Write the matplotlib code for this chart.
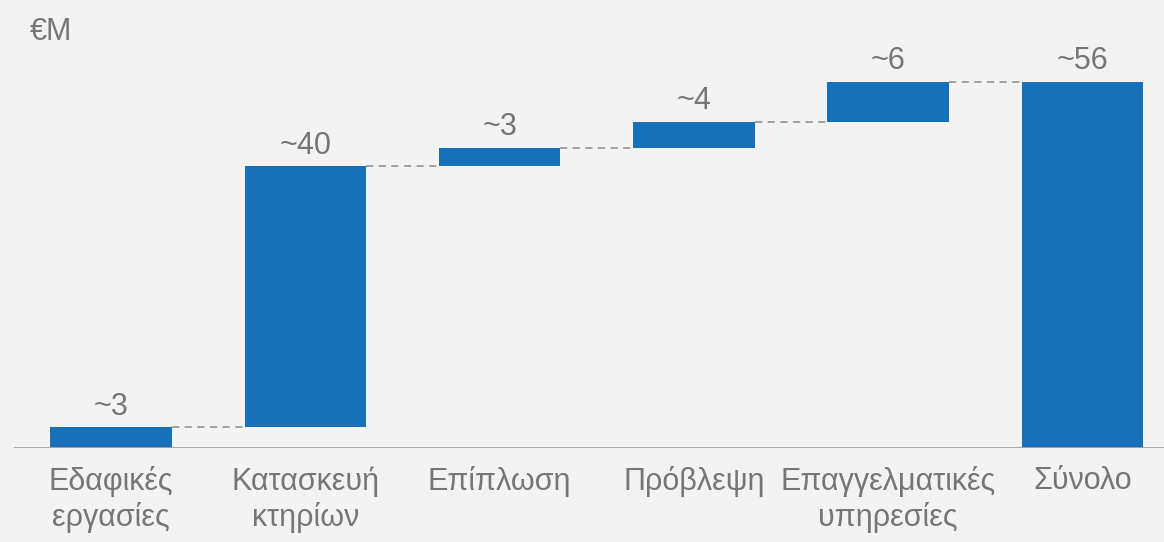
import matplotlib.pyplot as plt

# waterfall data (EUR million)
categories = ["Εδαφικές\nεργασίες", "Κατασκευή\nκτηρίων", "Επίπλωση",
              "Πρόβλεψη", "Επαγγελματικές\nυπηρεσίες", "Σύνολο"]
steps = [3.2, 39.9, 2.8, 4.0, 6.1]
total = 56.0
value_labels = ["~3", "~40", "~3", "~4", "~6", "~56"]

BAR = "#1770b8"
GREY_TXT = "#767676"
BG = "#f3f3f3"
FS = 22

plt.rcParams["font.family"] = ["Liberation Sans", "DejaVu Sans"]

fig = plt.figure(figsize=(11.64, 5.42), dpi=100, facecolor=BG)
ax = fig.add_axes([14 / 1164, 1 - 448 / 542, 1 - 14 / 1164, (448 - 20) / 542])
ax.set_facecolor(BG)

bottoms, heights = [], []
run = 0.0
for s in steps:
    bottoms.append(run)
    heights.append(s)
    run += s
bottoms.append(0.0)
heights.append(total)

xs = list(range(len(categories)))
width = 0.625
ax.bar(xs, heights, bottom=bottoms, width=width, color=BAR, zorder=3)

# dashed connectors between bars
for i in range(len(xs) - 1):
    level = bottoms[i] + heights[i]
    ax.plot([xs[i] + width / 2, xs[i + 1] - width / 2], [level, level],
            ls=(0, (4, 3)), color="#9a9a9a", lw=1.3, zorder=2)

for x, b, h, lab in zip(xs, bottoms, heights, value_labels):
    ax.annotate(lab, (x, b + h), xytext=(0, 9), textcoords="offset points",
                ha="center", va="baseline", fontsize=FS, color=GREY_TXT)

ax.axhline(0, color="#a3a3a3", lw=2, zorder=4)

ax.set_xlim(-0.5, 5.42)
ax.set_ylim(0, (448 - 20) / 6.54)
ax.set_xticks(xs)
ax.set_xticklabels(categories, fontsize=FS, color=GREY_TXT, linespacing=1.22)
ax.tick_params(axis="x", length=0, pad=13)
ax.set_yticks([])
for sp in ax.spines.values():
    sp.set_visible(False)

fig.text(30 / 1164, 1 - 32 / 542, "€M", fontsize=FS, color=GREY_TXT,
         ha="left", va="center")

fig.savefig("out.png", dpi=100, facecolor=BG)
